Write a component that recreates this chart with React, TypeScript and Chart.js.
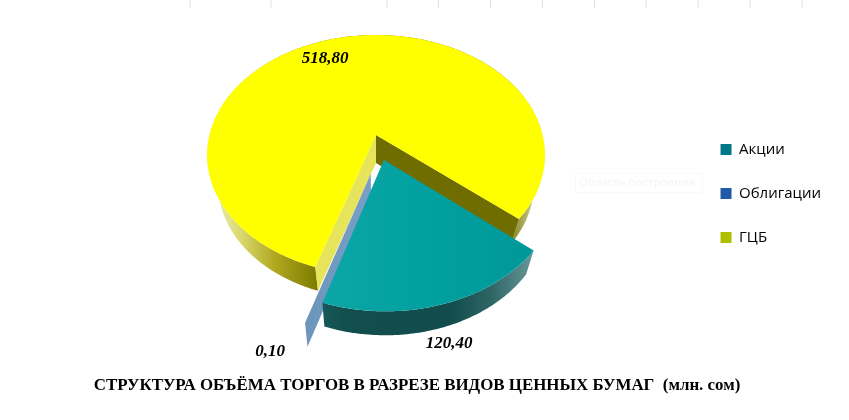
import React, { useEffect, useRef } from "react";
import { Chart, registerables } from "chart.js";

Chart.register(...registerables);

const categories = ["Акции", "Облигации", "ГЦБ"];
const values = [120.4, 0.1, 518.8];
const valueLabels = ["120,40", "0,10", "518,80"];
const legendColours = ["#00788A", "#1F5BA6", "#B0BE00"];
const topColours = ["#009C9C", "#7299C2", "#FFFF00"];
const chartTitle = "СТРУКТУРА ОБЪЁМА ТОРГОВ В РАЗРЕЗЕ ВИДОВ ЦЕННЫХ БУМАГ  (млн. сом)";

// Perspective of the 3D disc (style only)
const top3d = { cx: 376, cy: 135, a: 166.6, b: 116.7, k: 1 / 6 };
const bottom3d = { cx: 376, cy: 163, a: 155, b: 110, k: 0.19 };
const explode = [[0.046, 0.207], [-0.03, 0.316], [0, 0]];
const labelAnchors = [[449, 344], [270, 352], [325, 59]];
const topTicks = [190, 271, 387, 438.5, 490.5, 542.5, 594.5, 646, 698, 750, 802];

type P = [number, number];
const project = (g: typeof top3d, u: number, v: number): P => {
  const w = 1 - g.k * v;
  return [g.cx + (g.a * u) / w, g.cy + (g.b * v) / w];
};

function gradient(ctx: CanvasRenderingContext2D, x0: number, x1: number, stops: [number, string][]) {
  const g = ctx.createLinearGradient(x0, 0, x1, 0);
  stops.forEach(([x, c]) => g.addColorStop((x - x0) / (x1 - x0), c));
  return g;
}

function fillPoly(ctx: CanvasRenderingContext2D, pts: P[], fill: string | CanvasGradient) {
  ctx.beginPath();
  pts.forEach((p, i) => (i ? ctx.lineTo(p[0], p[1]) : ctx.moveTo(p[0], p[1])));
  ctx.closePath();
  ctx.fillStyle = fill;
  ctx.fill();
}

const pie3dPlugin = {
  id: "pie3d",
  beforeDatasetsDraw(chart: any) {
    const ctx: CanvasRenderingContext2D = chart.ctx;
    const arcs = chart.getDatasetMeta(0).data;

    const faces = (i: number) => {
      const { startAngle, endAngle } = arcs[i];
      const [ou, ov] = explode[i];
      const rim = (g: typeof top3d) => {
        const n = Math.max(2, Math.ceil((endAngle - startAngle) / 0.015));
        const out: P[] = [];
        for (let j = 0; j <= n; j++) {
          const t = startAngle + ((endAngle - startAngle) * j) / n;
          out.push(project(g, ou + Math.cos(t), ov + Math.sin(t)));
        }
        return out;
      };
      return {
        apexTop: project(top3d, ou, ov),
        apexBottom: project(bottom3d, ou, ov),
        rimTop: rim(top3d),
        rimBottom: rim(bottom3d),
      };
    };

    ctx.save();

    // ГЦБ
    const y = faces(2);
    fillPoly(ctx, [...y.rimTop, ...[...y.rimBottom].reverse()],
      gradient(ctx, 207, 545, [
        [207, "#F2F2C8"], [240, "#DADA70"], [275, "#B0A820"], [316, "#7F7C00"],
        [500, "#7F7C00"], [515, "#8F8F30"], [545, "#F2F2C8"],
      ]));
    const yS = y.rimTop[0], yE = y.rimTop[y.rimTop.length - 1];
    const yS2 = y.rimBottom[0], yE2 = y.rimBottom[y.rimBottom.length - 1];
    fillPoly(ctx, [y.apexTop, yE, yE2, y.apexBottom], "#6F6C00");
    fillPoly(ctx, [y.apexTop, yS, yS2, y.apexBottom], "#E6E45A");
    fillPoly(ctx, [y.apexTop, ...y.rimTop], topColours[2]);

    // Облигации
    const b = faces(1);
    fillPoly(ctx, [b.apexTop, b.rimTop[0], b.rimBottom[0], b.apexBottom],
      gradient(ctx, 305, 372, [[305, "#6C95BC"], [372, "#7A9FC6"]]));

    // Акции
    const s = faces(0);
    fillPoly(ctx, [...s.rimTop, ...[...s.rimBottom].reverse()],
      gradient(ctx, 323, 535, [
        [323, "#175858"], [345, "#134E4E"], [450, "#124C4C"], [490, "#2E6464"], [535, "#6A9A9A"],
      ]));
    fillPoly(ctx, [s.apexTop, ...s.rimTop],
      gradient(ctx, 323, 535, [[323, "#0CA6A6"], [420, "#02A0A0"], [535, "#009898"]]));

    // Value labels
    ctx.fillStyle = "#000";
    ctx.font = "italic bold 17px 'Liberation Serif'";
    ctx.textAlign = "center";
    ctx.textBaseline = "middle";
    valueLabels.forEach((t, i) => ctx.fillText(t, labelAnchors[i][0], labelAnchors[i][1]));

    // Faint leftovers of the source sheet
    ctx.strokeStyle = "#E2E2E2";
    ctx.lineWidth = 1;
    topTicks.forEach((x) => {
      ctx.beginPath();
      ctx.moveTo(x, 0);
      ctx.lineTo(x, 8);
      ctx.stroke();
    });
    ctx.strokeStyle = "#FAFAFA";
    ctx.strokeRect(575.5, 173.5, 127, 19);
    ctx.fillStyle = "#F3F3F3";
    ctx.font = "11.5px 'Open Sans'";
    ctx.fillText("Область построения", 637, 183);

    ctx.restore();
    return false;
  },
};

export default function App() {
  const ref = useRef<HTMLCanvasElement>(null);

  useEffect(() => {
    const chart = new Chart(ref.current!, {
      type: "pie",
      data: {
        labels: categories,
        datasets: [{ data: values, backgroundColor: topColours, borderWidth: 0 }],
      },
      plugins: [pie3dPlugin],
      options: {
        responsive: false,
        animation: false,
        rotation: 130,
        layout: { padding: { top: 113, right: 18, bottom: 0, left: 3 } },
        plugins: {
          tooltip: { enabled: false },
          title: {
            display: true,
            text: chartTitle,
            position: "bottom",
            color: "#000",
            font: { family: "'Liberation Serif'", size: 16.9, weight: "bold" },
            padding: { top: 0, bottom: 24 },
          },
          legend: {
            position: "right",
            align: "start",
            labels: {
              boxWidth: 11,
              boxHeight: 11,
              padding: 29,
              color: "#000",
              font: { family: "'Open Sans'", size: 15 },
              generateLabels: () =>
                categories.map((text, i) => ({
                  text,
                  fillStyle: legendColours[i],
                  strokeStyle: legendColours[i],
                  lineWidth: 0,
                  index: i,
                  datasetIndex: 0,
                })),
            },
          },
        },
      } as any,
    });
    return () => chart.destroy();
  }, []);

  return (
    <div style={{ position: "fixed", left: 0, top: 0, width: 849, height: 420, background: "#fff" }}>
      <canvas ref={ref} width={849} height={420} style={{ display: "block" }} />
    </div>
  );
}
